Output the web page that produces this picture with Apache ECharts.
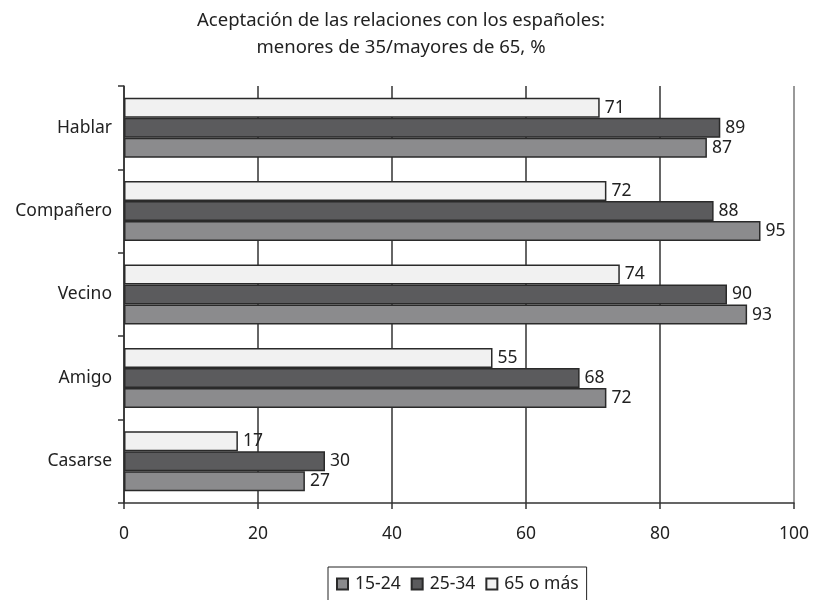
<!DOCTYPE html>
<html>
<head>
<meta charset="utf-8">
<script src="https://cdn.jsdelivr.net/npm/echarts@6/dist/echarts.min.js"></script>
<style>
html,body{margin:0;padding:0;background:#fff;}
#c{width:813px;height:600px;}
</style>
</head>
<body>
<div id="c"></div>
<script>
const categories = ['Hablar', 'Compañero', 'Vecino', 'Amigo', 'Casarse'];
const age15to24 = [87, 95, 93, 72, 27];
const age25to34 = [89, 88, 90, 68, 30];
const age65plus = [71, 72, 74, 55, 17];
const seriesNames = ['15-24', '25-34', '65 o más'];
const titleLines = ['Aceptación de las relaciones con los españoles:', 'menores de 35/mayores de 65, %'];

const FONT = 'Noto Sans';
const FS = 17.5;
const chart = echarts.init(document.getElementById('c'));

function mkSeries(name, data, color) {
  return {
    name: name,
    type: 'bar',
    data: data,
    barGap: '0%',
    barCategoryGap: '28%',
    itemStyle: { color: color, borderColor: '#2a2a2a', borderWidth: 1.5 },
    label: { show: true, position: 'right', distance: 5, fontFamily: FONT, fontSize: FS, color: '#222' },
    emphasis: { disabled: true },
    animation: false
  };
}

chart.setOption({
  animation: false,
  backgroundColor: '#fff',
  title: {
    text: titleLines.join('\n'),
    left: 396,
    textAlign: 'center',
    top: 2,
    textStyle: { fontFamily: FONT, fontWeight: 'normal', fontSize: 18.5, color: '#222', lineHeight: 27 }
  },
  legend: {
    data: seriesNames,
    left: 328,
    top: 567,
    orient: 'horizontal',
    itemWidth: 11,
    itemHeight: 11,
    itemGap: 10,
    icon: 'rect',
    borderColor: '#222',
    borderWidth: 1,
    padding: [8, 8, 14, 8],
    textStyle: { fontFamily: FONT, fontSize: FS, color: '#222', padding: [0, 0, 0, 2] }
  },
  grid: { left: 124, right: 19, top: 86, bottom: 97, containLabel: false },
  xAxis: {
    type: 'value',
    min: 0, max: 100, interval: 20,
    axisLine: { show: true, lineStyle: { color: '#333', width: 1.5 } },
    axisTick: { show: true, length: 6, lineStyle: { color: '#333', width: 1.5 } },
    axisLabel: { fontFamily: FONT, fontSize: FS, color: '#222', margin: 22 },
    splitLine: { show: true, lineStyle: { color: ['#333', '#333', '#333', '#333', '#333', '#777'], width: 1.5 } }
  },
  yAxis: {
    type: 'category',
    data: categories,
    inverse: true,
    axisLine: { show: true, lineStyle: { color: '#333', width: 1.5 } },
    axisTick: { show: true, length: 6, lineStyle: { color: '#333', width: 1.5 } },
    axisLabel: { fontFamily: FONT, fontSize: FS, color: '#222', margin: 12 }
  },
  series: [
    mkSeries(seriesNames[2], age65plus, '#f1f1f1'),
    mkSeries(seriesNames[1], age25to34, '#5b5b5d'),
    mkSeries(seriesNames[0], age15to24, '#8b8b8d')
  ]
});
</script>
</body>
</html>
